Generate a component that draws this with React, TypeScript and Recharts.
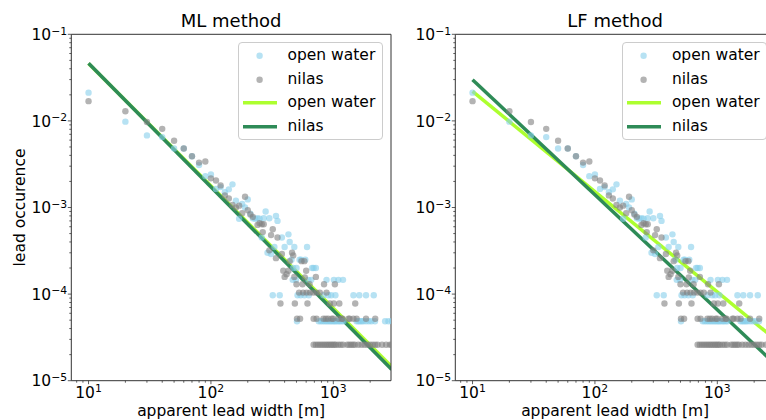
import React from 'react';
import { ComposedChart, Scatter, Line, XAxis, YAxis, Legend } from 'recharts';

const FONT = '"DejaVu Sans", "Liberation Sans", sans-serif';

// histogram points, same in both panels
const openWaterCloud: [number, number][] = [
  [10, 0.0212], [20, 0.0098], [30, 0.0068], [40, 0.0065], [50, 0.0048], [60, 0.0048],
  [70, 0.0039], [80, 0.0031], [90, 0.0023], [100, 0.0024], [110, 0.00164], [120, 0.00172],
  [130, 0.0015], [140, 0.00162], [150, 0.00185], [160, 0.0012], [170, 0.00074], [180, 0.0011],
  [190, 0.001], [200, 0.00124], [210, 0.00085], [220, 0.00075], [230, 0.00074], [240, 0.00075],
  [250, 0.00074], [260, 0.00045], [270, 0.00075], [280, 0.0009], [290, 0.0003], [300, 0.00075],
  [310, 0.00029], [330, 0.00035], [340, 0.0008], [350, 0.0007], [380, 0.00045], [400, 0.00035],
  [430, 0.00049], [440, 0.0004], [455, 0.00025], [470, 0.0002], [480, 0.00035], [500, 0.0002],
  [530, 0.00025], [545, 0.00025], [590, 0.00025], [610, 0.00035], [670, 0.0002], [690, 0.0002],
  [720, 0.0002],
];
const openWaterAt146: number[] = [466, 495, 625, 660, 880, 1010, 1100, 1200];
const openWaterAt097: number[] = [320, 365, 510, 540, 580, 630, 830, 910, 960, 1040, 1460, 1630, 1850, 2140];
const openWaterAt049: number[] = [
  505, 760, 790, 820, 850, 880, 910, 940, 970, 1000, 1030, 1060, 1100, 1130, 1170, 1210,
  1550, 1600, 1650, 1700, 1760, 1850, 1950, 2050, 2190, 2650, 2820, 3000,
];

const nilasCloud: [number, number][] = [
  [10, 0.0169], [20, 0.0129], [30, 0.0097], [40, 0.0081], [50, 0.0059], [60, 0.0048],
  [70, 0.0039], [80, 0.0033], [90, 0.0034], [100, 0.00217], [110, 0.00205], [120, 0.0018],
  [130, 0.00138], [140, 0.00127], [150, 0.00107], [160, 0.001], [170, 0.00105], [180, 0.00086],
  [190, 0.00133], [200, 0.00093], [210, 0.00083], [220, 0.00078], [240, 0.00063], [250, 0.00066],
  [260, 0.00064], [265, 0.00052], [270, 0.00064], [300, 0.00032], [310, 0.00048], [320, 0.00056],
  [340, 0.00026], [350, 0.00045], [380, 0.00029], [390, 0.000186], [400, 0.000158], [415, 0.00017],
  [430, 0.000186], [440, 0.00024], [460, 0.0003], [470, 0.00028], [480, 0.000158], [550, 0.00024],
  [580, 0.00024], [585, 0.000156], [600, 0.000186], [720, 0.000158],
];
const nilasAt130: number[] = [500, 560, 640, 840, 1030];
const nilasAt104: number[] = [525, 566, 605, 645, 685, 729, 776, 880];
const nilasAt078: number[] = [370, 485, 615, 938, 1010, 1120, 1510];
const nilasAt052: number[] = [
  505, 535, 690, 730, 830, 870, 910, 970, 1000, 1100, 1170, 1190, 1330, 1360, 1460, 1550, 1850, 2200,
];
const nilasAt026: number[] = [
  690, 720, 750, 780, 810, 840, 870, 900, 930, 960, 990, 1020, 1050, 1100, 1150, 1200, 1300,
  1350, 1400, 1450, 1500, 1600, 1700, 1800, 1900, 2000, 2100, 2200, 2300, 2500, 2700, 2900, 3000,
];

// fitted power laws, end points
const mlOpenWaterFit: [number, number][] = [[10, 0.046], [3000, 1.45e-5]];
const mlNilasFit: [number, number][] = [[10, 0.0462], [3000, 1.35e-5]];
const lfOpenWaterFit: [number, number][] = [[10, 0.0219], [3000, 2.97e-5]];
const lfNilasFit: [number, number][] = [[10, 0.0299], [3000, 1.53e-5]];

const xTicks = [8, 9, 10, 20, 30, 40, 50, 60, 70, 80, 90, 100, 200, 300, 400, 500, 600, 700, 800, 900, 1000, 2000];
const yTicks = [
  1e-5, 2e-5, 3e-5, 4e-5, 5e-5, 6e-5, 7e-5, 8e-5, 9e-5,
  1e-4, 2e-4, 3e-4, 4e-4, 5e-4, 6e-4, 7e-4, 8e-4, 9e-4,
  1e-3, 2e-3, 3e-3, 4e-3, 5e-3, 6e-3, 7e-3, 8e-3, 9e-3,
  1e-2, 2e-2, 3e-2, 4e-2, 5e-2, 6e-2, 7e-2, 8e-2, 9e-2,
  1e-1,
];
const xDomain = [7.23, 2960];
const yDomain = [1e-5, 1e-1];

const toXY = (pts: [number, number][]) => pts.map(([x, y]) => ({ x, y }));
const row = (xs: number[], y: number) => xs.map((x) => ({ x, y }));

const openWater = [
  ...toXY(openWaterCloud),
  ...row(openWaterAt146, 1.46e-4),
  ...row(openWaterAt097, 9.7e-5),
  ...row(openWaterAt049, 4.86e-5),
];
const nilas = [
  ...toXY(nilasCloud),
  ...row(nilasAt130, 1.3e-4),
  ...row(nilasAt104, 1.04e-4),
  ...row(nilasAt078, 7.8e-5),
  ...row(nilasAt052, 5.2e-5),
  ...row(nilasAt026, 2.6e-5),
];

const OW_DOT = '#87ceeb';
const NL_DOT = '#808080';
const OW_LINE = '#adff2f';
const NL_LINE = '#2e8b57';
const AXIS = '#333';

const isMajor = (v: number) => {
  const e = Math.log10(v);
  return Math.abs(e - Math.round(e)) < 1e-9;
};
const expText = (v: number) => {
  const e = Math.round(Math.log10(v));
  return e < 0 ? '\u2212' + Math.abs(e) : String(e);
};

const XTick = (props: any) => {
  const { x, y, payload } = props;
  const major = isMajor(payload.value);
  return (
    <g>
      <line x1={x} x2={x} y1={y} y2={y + (major ? 3.5 : 2)} stroke={AXIS} strokeWidth={0.8} />
      {major && (
        <text x={x} y={y + 16.8} textAnchor="middle" fontSize={15.5} fill="#000" fontFamily={FONT}>
          10<tspan dy={-5.5} fontSize={10.8}>{expText(payload.value)}</tspan>
        </text>
      )}
    </g>
  );
};

const YTick = (props: any) => {
  const { x, y, payload } = props;
  const major = isMajor(payload.value);
  return (
    <g>
      <line x1={x - (major ? 3.5 : 2)} x2={x} y1={y} y2={y} stroke={AXIS} strokeWidth={0.8} />
      {major && (
        <text x={x - 4.2} y={y + 5.7} textAnchor="end" fontSize={15.5} fill="#000" fontFamily={FONT}>
          10<tspan dy={-5.5} fontSize={10.8}>{expText(payload.value)}</tspan>
        </text>
      )}
    </g>
  );
};

const dot = (color: string) => (p: any) =>
  <circle cx={p.cx} cy={p.cy} r={3.2} fill={color} fillOpacity={0.6} />;

const LegendBox = (props: any) => {
  const order = ['open water', 'nilas'];
  const items = [...(props.payload || [])].sort(
    (a: any, b: any) =>
      (a.type === 'line' ? 2 : 0) + order.indexOf(a.value) - ((b.type === 'line' ? 2 : 0) + order.indexOf(b.value)),
  );
  return (
    <div
      style={{
        width: 145.6, height: 97.7, boxSizing: 'border-box', border: '1px solid #cccccc',
        borderRadius: 4, background: 'rgba(255,255,255,0.8)', paddingTop: 1,
        fontFamily: FONT, fontSize: 15.5, color: '#000',
      }}
    >
      {items.map((e: any, i: number) => (
        <div key={i} style={{ display: 'flex', alignItems: 'center', height: 23.5 }}>
          <svg width={49} height={23.5} style={{ flex: 'none' }}>
            {e.type === 'line' ? (
              <line x1={4} x2={38} y1={11.75} y2={11.75} stroke={e.color} strokeWidth={3.5} />
            ) : (
              <circle cx={20.6} cy={11.75} r={3.2} fill={e.color} fillOpacity={0.6} />
            )}
          </svg>
          <span style={{ marginTop: -2, whiteSpace: 'nowrap' }}>{e.value}</span>
        </div>
      ))}
    </div>
  );
};

type PanelProps = {
  title: string;
  owFit: [number, number][];
  nlFit: [number, number][];
  yLabel?: string;
};

const Panel = ({ title, owFit, nlFit, yLabel }: PanelProps) => (
  <ComposedChart width={400} height={420} margin={{ top: 0, right: 0, bottom: 0, left: 0 }}>
    <XAxis
      dataKey="x" type="number" scale="log" domain={xDomain} allowDataOverflow ticks={xTicks}
      interval={0} tick={<XTick />} tickLine={false} tickSize={0} tickMargin={0} height={39.3}
      axisLine={{ stroke: AXIS }}
      label={{
        content: (p: any) => (
          <text x={p.viewBox.x + p.viewBox.width / 2} y={p.viewBox.y + 34.8} textAnchor="middle"
            fontSize={15.5} fill="#000" fontFamily={FONT}>apparent lead width [m]</text>
        ),
      }}
    />
    <XAxis
      xAxisId="top" orientation="top" type="number" domain={[0, 1]} tick={false} tickLine={false}
      height={34.3} axisLine={{ stroke: AXIS }}
      label={{
        content: (p: any) => (
          <text x={p.viewBox.x + p.viewBox.width / 2} y={26.6} textAnchor="middle"
            fontSize={18} fill="#000" fontFamily={FONT}>{title}</text>
        ),
      }}
    />
    <YAxis
      dataKey="y" type="number" scale="log" domain={yDomain} allowDataOverflow ticks={yTicks}
      interval={0} tick={<YTick />} tickLine={false} tickSize={0} tickMargin={0} width={71.3}
      axisLine={{ stroke: AXIS }}
      label={
        yLabel
          ? {
              content: (p: any) => {
                const cx = p.viewBox.x + 25;
                const cy = p.viewBox.y + p.viewBox.height / 2;
                return (
                  <text x={cx} y={cy} transform={`rotate(-90, ${cx}, ${cy})`} textAnchor="middle"
                    fontSize={15.5} fill="#000" fontFamily={FONT}>{yLabel}</text>
                );
              },
            }
          : undefined
      }
    />
    <YAxis yAxisId="right" orientation="right" type="number" domain={[0, 1]} tick={false}
      tickLine={false} width={9} axisLine={{ stroke: AXIS }} />
    <Legend layout="vertical" align="center" verticalAlign="middle" content={<LegendBox />}
      wrapperStyle={{ left: 237.5, top: 42.3, width: 'auto' }} />
    <Scatter name="open water" data={openWater} fill={OW_DOT} legendType="circle"
      shape={dot(OW_DOT)} isAnimationActive={false} />
    <Scatter name="nilas" data={nilas} fill={NL_DOT} legendType="circle"
      shape={dot(NL_DOT)} isAnimationActive={false} />
    <Line name="open water" data={toXY(owFit)} dataKey="y" stroke={OW_LINE} strokeWidth={3.5}
      dot={false} activeDot={false} legendType="line" type="linear" isAnimationActive={false} />
    <Line name="nilas" data={toXY(nlFit)} dataKey="y" stroke={NL_LINE} strokeWidth={3.5}
      dot={false} activeDot={false} legendType="line" type="linear" isAnimationActive={false} />
  </ComposedChart>
);

export default function App() {
  return (
    <div
      style={{
        position: 'absolute', left: 0, top: 0, width: 766, height: 420, overflow: 'hidden',
        background: '#fff', fontFamily: FONT,
      }}
    >
      <div style={{ position: 'absolute', left: 0, top: 0 }}>
        <Panel title="ML method" owFit={mlOpenWaterFit} nlFit={mlNilasFit} yLabel="lead occurence" />
      </div>
      <div style={{ position: 'absolute', left: 384.4, top: 0 }}>
        <Panel title="LF method" owFit={lfOpenWaterFit} nlFit={lfNilasFit} />
      </div>
    </div>
  );
}
